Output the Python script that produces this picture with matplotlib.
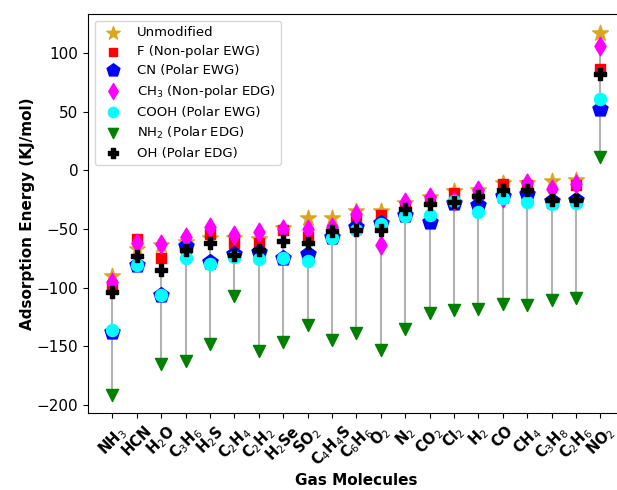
import numpy as np
import matplotlib.pyplot as plt

# gas molecules (x axis)
molecules = ['NH$_3$', 'HCN', 'H$_2$O', 'C$_3$H$_6$', 'H$_2$S', 'C$_2$H$_4$', 'C$_2$H$_2$',
             'H$_2$Se', 'SO$_2$', 'C$_4$H$_4$S', 'C$_6$H$_6$', 'O$_2$', 'N$_2$', 'CO$_2$',
             'Cl$_2$', 'H$_2$', 'CO', 'CH$_4$', 'C$_3$H$_8$', 'C$_2$H$_6$', 'NO$_2$']

# adsorption energies (KJ/mol)
unmod = [-90, -67, -64, -61, -58, -58, -59, -49, -41, -41, -35, -35, -28, -23, -18, -17, -11, -11, -9, -8, 117]
f_ewg = [-99, -59, -75, -66, -54, -62, -62, -51, -57, -51, -41, -38, -31, -25, -19, -20, -12, -13, -28, -13, 86]
cn_ewg = [-138, -81, -106, -65, -78, -71, -70, -75, -71, -57, -48, -45, -38, -44, -28, -30, -22, -20, -26, -25, 52]
ch3_edg = [-95, -62, -63, -57, -48, -55, -53, -50, -50, -48, -37, -64, -27, -23, -26, -17, -24, -11, -16, -12, 106]
cooh_ewg = [-136, -81, -106, -75, -80, -74, -76, -75, -77, -58, -51, -46, -39, -38, -26, -36, -24, -27, -29, -28, 61]
nh2_edg = [-192, np.nan, -165, -163, -148, -107, -154, -146, -132, -145, -139, -153, -135, -122, -119, -118, -114, -115, -111, -109, 11]
oh_edg = [-104, -73, -85, -68, -62, -72, -68, -60, -62, -52, -51, -51, -33, -29, -27, -22, -17, -17, -25, -25, 82]

x = np.arange(len(molecules))
allv = np.array([unmod, f_ewg, cn_ewg, ch3_edg, cooh_ewg, nh2_edg, oh_edg], dtype=float)

fig = plt.figure(figsize=(6.17, 4.9), dpi=100)
ax = fig.add_axes([0.1426, 0.157, 0.870, 0.814])

# range line per molecule
ax.vlines(x, np.nanmin(allv, axis=0), np.nanmax(allv, axis=0), color='gray', alpha=0.6, lw=1.5, zorder=1)

ax.scatter(x, unmod, marker='*', s=140, color='goldenrod', label='Unmodified', zorder=2)
ax.scatter(x, f_ewg, marker='s', s=55, color='red', label='F (Non-polar EWG)', zorder=2)
ax.scatter(x, cn_ewg, marker='p', s=130, color='blue', label='CN (Polar EWG)', zorder=2)
ax.scatter(x, ch3_edg, marker='d', s=90, color='magenta', label='CH$_3$ (Non-polar EDG)', zorder=2)
ax.scatter(x, cooh_ewg, marker='o', s=75, color='cyan', label='COOH (Polar EWG)', zorder=2)
ax.scatter(x, nh2_edg, marker='v', s=75, color='green', label='NH$_2$ (Polar EDG)', zorder=2)
ax.scatter(x, oh_edg, marker='P', s=75, color='black', label='OH (Polar EDG)', zorder=2)

ax.set_xlim(-1, 21)
ax.set_ylim(-207, 133)
ax.set_xticks(x)
ax.set_xticklabels(molecules, rotation=45, fontweight='bold', fontsize=10.5)
ax.tick_params(axis='y', labelsize=11)
ax.set_xlabel('Gas Molecules', fontweight='bold', fontsize=11, labelpad=2)
ax.set_ylabel('Adsorption Energy (KJ/mol)', fontweight='bold', fontsize=11, labelpad=1)
ax.legend(loc='upper left', fontsize=9.5, markerscale=0.85, labelspacing=0.45)

fig.savefig('out.png', dpi=100)
